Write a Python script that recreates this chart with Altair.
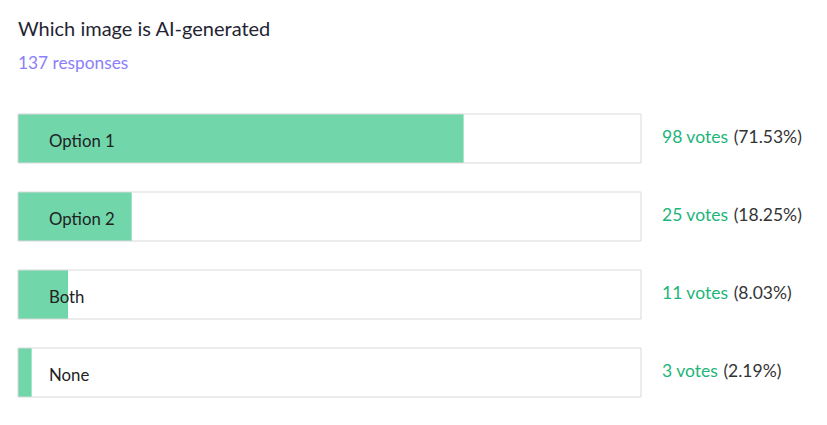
import altair as alt
import pandas as pd

categories = ["Option 1", "Option 2", "Both", "None"]
votes = [98, 25, 11, 3]
percents = [71.53, 18.25, 8.03, 2.19]
title_text = "Which image is AI-generated"
subtitle_text = "137 responses"

df = pd.DataFrame({
    "option": categories,
    "votes": votes,
    "pct": percents,
})
df["votes_label"] = df["votes"].astype(str) + " votes"
df["pct_label"] = "(" + df["pct"].map(lambda v: f"{v:.2f}") + "%)"
df["total"] = 100

FONT = "Lato"
RFS = 17.5

x_scale = alt.Scale(domain=[0, 100], range=[10, 633], nice=False, zero=False)
y_scale = alt.Scale(range=[106, 389], paddingInner=0.372, paddingOuter=0)
px_scale = alt.Scale(domain=[0, 811], range=[0, 811], nice=False, zero=False)

base = alt.Chart(df)

y_enc = alt.Y("option:N", sort=categories, scale=y_scale, axis=None)

fill_bar = base.mark_bar(color="#71d7ab", cornerRadius=0).encode(
    x=alt.X("pct:Q", scale=x_scale, axis=None),
    x2=alt.datum(0),
    y=y_enc,
)

outline = base.mark_bar(fill="white", fillOpacity=0, stroke="#d9d9d9", strokeWidth=1).encode(
    x=alt.X("total:Q", scale=x_scale, axis=None),
    x2=alt.datum(0),
    y=y_enc,
)

labels = base.mark_text(align="left", baseline="middle", font=FONT, fontSize=16.8,
                        color="#222222", dy=3.5).encode(
    x=alt.value(41),
    y=y_enc,
    text="option:N",
)

votes_text = base.mark_text(align="left", baseline="middle", font=FONT, fontSize=RFS,
                            color="#1cb57a", dy=-0.5).encode(
    x=alt.value(654),
    y=y_enc,
    text="votes_label:N",
)

# percentage follows the vote count; its start depends on the digit count
pct_text = base.transform_calculate(
    px="705.1 + 10.3 * length(toString(datum.votes))"
).mark_text(align="left", baseline="middle", font=FONT, fontSize=RFS,
            color="#333333", dy=-0.5).encode(
    x=alt.X("px:Q", scale=px_scale, axis=None),
    y=y_enc,
    text="pct_label:N",
)

head = pd.DataFrame({"t": [title_text], "s": [subtitle_text]})
title_mark = alt.Chart(head).mark_text(align="left", baseline="alphabetic", font=FONT,
                                        fontSize=20, color="#1f2533").encode(
    x=alt.value(10), y=alt.value(27.5), text="t:N")
subtitle_mark = alt.Chart(head).mark_text(align="left", baseline="alphabetic", font=FONT,
                                           fontSize=17.3, color="#8b80f9").encode(
    x=alt.value(10), y=alt.value(61), text="s:N")

chart = alt.layer(fill_bar, outline, labels, votes_text, pct_text,
                  title_mark, subtitle_mark).resolve_scale(x="independent").properties(
    width=811, height=409,
    autosize=alt.AutoSizeParams(type="none"),
    padding=0,
    background="white",
).configure_view(stroke=None)

chart.save("out.html", embed_options={"renderer": "svg", "actions": False})
